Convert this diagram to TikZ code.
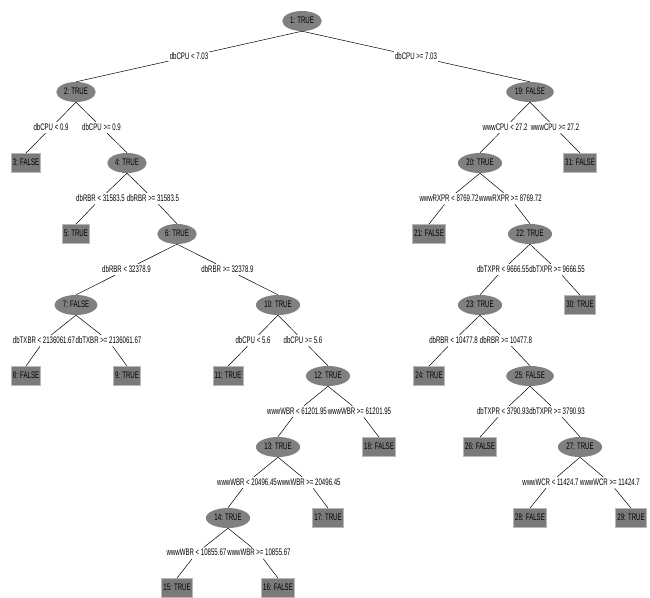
\documentclass[tikz,border=0pt]{standalone}
\usepackage{fontspec}
\newfontfamily\wekafont{Liberation Sans}[FakeStretch=0.64]
\usetikzlibrary{shapes.geometric}
\tikzset{
  split/.style={ellipse,fill=black!50,inner xsep=2pt,inner ysep=2pt,minimum height=20pt},
  leaf/.style={rectangle,fill=black!52,draw=black!28,line width=0.8pt,inner xsep=1.5pt,minimum height=19pt},
  cond/.style={inner sep=1pt},
  edge/.style={line width=0.5pt},
}
% one test: [label shift] parent, child, condition
\newcommand{\branch}[4][]{%
  \path (n#2.south) -- node[cond,#1](e#3){#4} (n#3.north);
  \draw[edge] (n#2.south) -- (e#3) -- (n#3.north);}
\begin{document}
\begin{tikzpicture}[font=\wekafont\fontsize{9.5}{11}\selectfont,
  every node/.append style={text height=7pt,text depth=2pt}]
  \useasboundingbox (0pt,0pt) rectangle (650pt,-597pt);
  \node[split](n1) at (302pt,-21pt){1: TRUE};
  \node[split](n2) at (76pt,-92pt){2: TRUE};
  \node[split](n19) at (530pt,-92pt){19: FALSE};
  \node[leaf](n3) at (26pt,-163pt){3: FALSE};
  \node[split](n4) at (127pt,-163pt){4: TRUE};
  \node[split](n20) at (480pt,-163pt){20: TRUE};
  \node[leaf](n31) at (580pt,-163pt){31: FALSE};
  \node[leaf](n5) at (76pt,-234pt){5: TRUE};
  \node[split](n6) at (177pt,-234pt){6: TRUE};
  \node[leaf](n21) at (429pt,-234pt){21: FALSE};
  \node[split](n22) at (530pt,-234pt){22: TRUE};
  \node[split](n7) at (76pt,-305pt){7: FALSE};
  \node[split](n10) at (278pt,-305pt){10: TRUE};
  \node[split](n23) at (480pt,-305pt){23: TRUE};
  \node[leaf](n30) at (580pt,-305pt){30: TRUE};
  \node[leaf](n8) at (26pt,-376pt){8: FALSE};
  \node[leaf](n9) at (127pt,-376pt){9: TRUE};
  \node[leaf](n11) at (228pt,-376pt){11: TRUE};
  \node[split](n12) at (328pt,-376pt){12: TRUE};
  \node[leaf](n24) at (429pt,-376pt){24: TRUE};
  \node[split](n25) at (530pt,-376pt){25: FALSE};
  \node[split](n13) at (278pt,-447pt){13: TRUE};
  \node[leaf](n18) at (379pt,-447pt){18: FALSE};
  \node[leaf](n26) at (480pt,-447pt){26: FALSE};
  \node[split](n27) at (580pt,-447pt){27: TRUE};
  \node[split](n14) at (228pt,-518pt){14: TRUE};
  \node[leaf](n17) at (328pt,-518pt){17: TRUE};
  \node[leaf](n28) at (530pt,-518pt){28: FALSE};
  \node[leaf](n29) at (631pt,-518pt){29: TRUE};
  \node[leaf](n15) at (177pt,-588pt){15: TRUE};
  \node[leaf](n16) at (278pt,-588pt){16: FALSE};
  \branch{1}{2}{dbCPU < 7.03}
  \branch{1}{19}{dbCPU >= 7.03}
  \branch{2}{3}{dbCPU < 0.9}
  \branch{2}{4}{dbCPU >= 0.9}
  \branch[xshift=-1pt]{4}{5}{dbRBR < 31583.5}
  \branch[xshift=1pt]{4}{6}{dbRBR >= 31583.5}
  \branch{6}{7}{dbRBR < 32378.9}
  \branch{6}{10}{dbRBR >= 32378.9}
  \branch[xshift=-7pt]{7}{8}{dbTXBR < 2136061.67}
  \branch[xshift=7pt]{7}{9}{dbTXBR >= 2136061.67}
  \branch{10}{11}{dbCPU < 5.6}
  \branch{10}{12}{dbCPU >= 5.6}
  \branch[xshift=-6pt]{12}{13}{wwwWBR < 61201.95}
  \branch[xshift=6pt]{12}{18}{wwwWBR >= 61201.95}
  \branch[xshift=-6pt]{13}{14}{wwwWBR < 20496.45}
  \branch[xshift=6pt]{13}{17}{wwwWBR >= 20496.45}
  \branch[xshift=-6pt]{14}{15}{wwwWBR < 10855.67}
  \branch[xshift=6pt]{14}{16}{wwwWBR >= 10855.67}
  \branch{19}{20}{wwwCPU < 27.2}
  \branch{19}{31}{wwwCPU >= 27.2}
  \branch[xshift=-5.5pt]{20}{21}{wwwRXPR < 8769.72}
  \branch[xshift=5.5pt]{20}{22}{wwwRXPR >= 8769.72}
  \branch[xshift=-2pt]{22}{23}{dbTXPR < 9666.55}
  \branch[xshift=2pt]{22}{30}{dbTXPR >= 9666.55}
  \branch[xshift=-1pt]{23}{24}{dbRBR < 10477.8}
  \branch[xshift=1pt]{23}{25}{dbRBR >= 10477.8}
  \branch[xshift=-2pt]{25}{26}{dbTXPR < 3790.93}
  \branch[xshift=2pt]{25}{27}{dbTXPR >= 3790.93}
  \branch[xshift=-4.5pt]{27}{28}{wwwWCR < 11424.7}
  \branch[xshift=4.5pt]{27}{29}{wwwWCR >= 11424.7}
\end{tikzpicture}
\end{document}
